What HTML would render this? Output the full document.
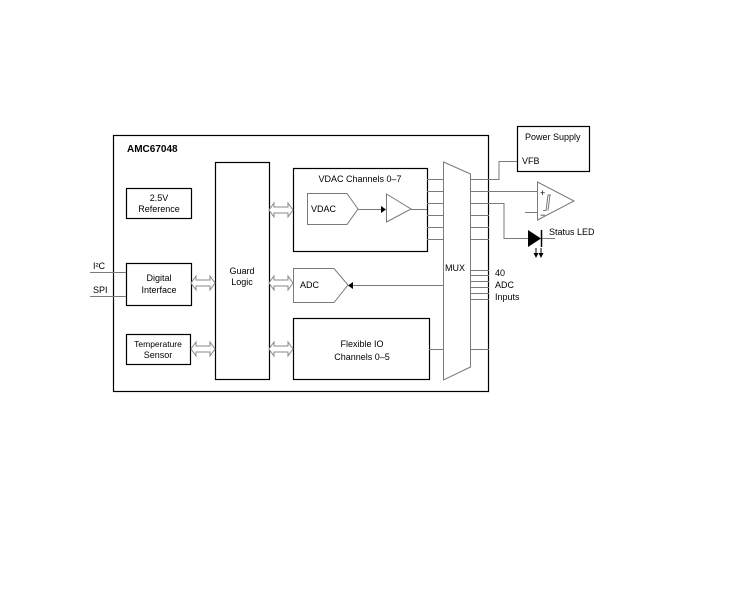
<!DOCTYPE html>
<html><head><meta charset="utf-8"><style>
html,body{margin:0;padding:0;background:#fff;}
svg{display:block;}
text{font-family:"Liberation Sans",Arial,sans-serif;font-size:9px;fill:#000;}
</style></head><body>
<svg width="733" height="593" viewBox="0 0 733 593" xmlns="http://www.w3.org/2000/svg">
<defs>
<g id="darr"><path d="M0,0 L5,-7 L5,-3 L19,-3 L19,-7 L24,0 L19,7 L19,3 L5,3 L5,7 Z" fill="#fff" stroke="#888" stroke-width="1"/></g>
</defs>
<g fill="none" stroke="#000" stroke-width="1.2">
<rect x="113.5" y="135.5" width="375" height="256"/>
<rect x="126.5" y="188.5" width="65" height="30"/>
<rect x="126.5" y="263.5" width="65" height="42"/>
<rect x="126.5" y="334.5" width="64" height="30"/>
<rect x="215.5" y="162.5" width="54" height="217"/>
<rect x="293.5" y="168.5" width="134" height="83"/>
<rect x="293.5" y="318.5" width="136" height="61"/>
<rect x="517.5" y="126.5" width="72" height="45"/>
</g>
<g fill="none" stroke="#7a7a7a" stroke-width="1">
<path d="M443.5,162 L470.5,174 L470.5,367 L443.5,380 Z"/>
<path d="M307.5,193.5 L347,193.5 L358,209 L347,224.5 L307.5,224.5 Z"/>
<path d="M386.5,194 L411,209 L386.5,222 Z"/>
<path d="M293.5,268.5 L334,268.5 L348,285 L334,302.5 L293.5,302.5 Z"/>
<path d="M537.5,182 L574,201 L537.5,220 Z"/>
<path d="M90,272.5 H126 M90,296.5 H126"/>
<path d="M358,209.5 H381 M411,209.5 H427"/>
<path d="M353,285.5 H443"/>
<path d="M427,179.5H443 M427,191.5H443 M427,203.5H443 M427,215.5H443 M427,227.5H443 M427,239.5H443"/>
<path d="M470,215.5H489 M470,227.5H489 M470,239.5H489"/>
<path d="M470,179.5H499V161.5H517"/>
<path d="M470,191.5H537"/>
<path d="M470,203.5H504V238.5H528 M541,238.5H555"/>
<path d="M525,212.5H537"/>
<path d="M470,270.5H489 M470,275.5H489 M470,281.5H489 M470,287.5H489 M470,293.5H489 M470,299.5H489"/>
<path d="M429,349.5H443 M470,349.5H489"/>
<path d="M543,210.5 H546 L548,195 H551 M546,210.5 L548,195 M548,210.5 L550,195"/>
</g>
<path d="M528,230 L541,238.5 L528,247 Z" fill="#000"/>
<path d="M541.5,230 V247" stroke="#000" stroke-width="1.5"/>
<path d="M536,248V256 M541,248V256" stroke="#000" stroke-width="1"/>
<path d="M533.5,253 L536,258 L538.5,253 Z M538.5,253 L541,258 L543.5,253 Z" fill="#000"/>
<path d="M381,206 L386,209.5 L381,213 Z" fill="#000"/>
<path d="M348,285.5 L353,282 L353,289 Z" fill="#000"/>
<use href="#darr" x="191" y="283"/>
<use href="#darr" x="191" y="349"/>
<use href="#darr" x="269" y="210"/>
<use href="#darr" x="269" y="283"/>
<use href="#darr" x="269" y="349"/>
<text x="127" y="152" style="font-weight:bold;font-size:10px">AMC67048</text>
<text x="159" y="201" text-anchor="middle">2.5V</text>
<text x="159" y="212" text-anchor="middle">Reference</text>
<text x="159" y="281" text-anchor="middle">Digital</text>
<text x="159" y="293" text-anchor="middle">Interface</text>
<text x="158" y="347" text-anchor="middle" style="font-size:8.5px">Temperature</text>
<text x="158" y="358" text-anchor="middle">Sensor</text>
<text x="93" y="269">I²C</text>
<text x="93" y="293">SPI</text>
<text x="242" y="274" text-anchor="middle">Guard</text>
<text x="242" y="285" text-anchor="middle">Logic</text>
<text x="360" y="182" text-anchor="middle">VDAC Channels 0–7</text>
<text x="311" y="212">VDAC</text>
<text x="300" y="288">ADC</text>
<text x="362" y="347" text-anchor="middle">Flexible IO</text>
<text x="362" y="360" text-anchor="middle">Channels 0–5</text>
<text x="445" y="271">MUX</text>
<text x="495" y="276">40</text>
<text x="495" y="288">ADC</text>
<text x="495" y="300">Inputs</text>
<text x="525" y="140">Power Supply</text>
<text x="522" y="164">VFB</text>
<text x="540" y="196">+</text>
<text x="540" y="218">−</text>
<text x="549" y="235">Status LED</text>
</svg>
</body></html>
